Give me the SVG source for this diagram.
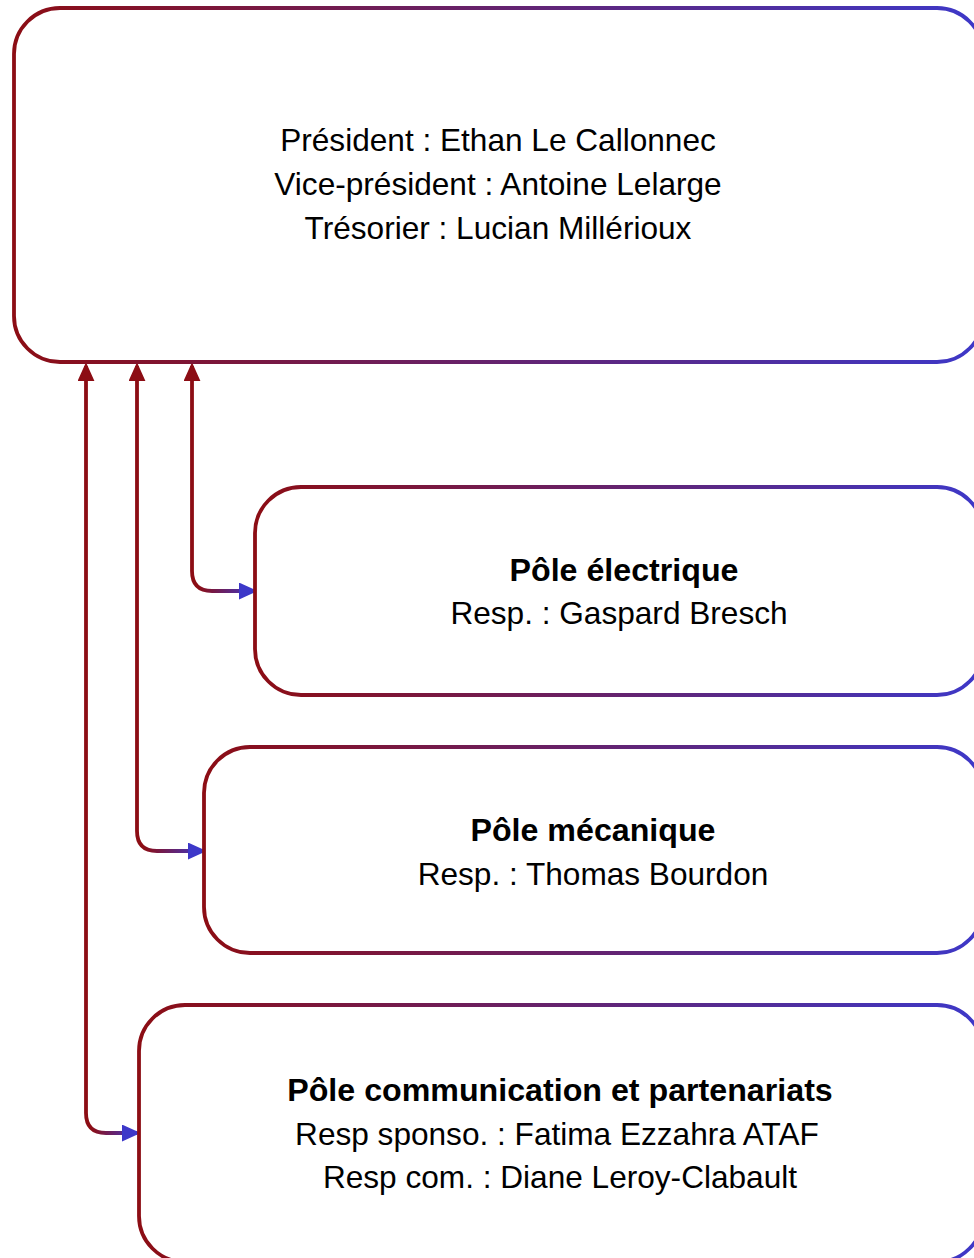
<svg xmlns="http://www.w3.org/2000/svg" width="974" height="1258" viewBox="0 0 974 1258">
<defs>
<linearGradient id="gBox" x1="0" y1="0" x2="1" y2="0">
<stop offset="0" stop-color="#8C0D14"/>
<stop offset="1" stop-color="#3D38C9"/>
</linearGradient>
<linearGradient id="gLink" x1="0" y1="0" x2="1" y2="0">
<stop offset="0" stop-color="#8C0D14"/>
<stop offset="0.1" stop-color="#8C0D14"/>
<stop offset="1" stop-color="#3D38C9"/>
</linearGradient>
<marker id="headRed" viewBox="0 0 10 10" refX="9" refY="5" markerUnits="userSpaceOnUse" markerWidth="17" markerHeight="17" orient="auto-start-reverse">
<path d="M0,0.5 L10,5 L0,9.5 Z" fill="#8C0D14" stroke="#8C0D14" stroke-linejoin="round"/>
</marker>
<marker id="headBlue" viewBox="0 0 10 10" refX="9" refY="5" markerUnits="userSpaceOnUse" markerWidth="17" markerHeight="17" orient="auto">
<path d="M0,0.5 L10,5 L0,9.5 Z" fill="#3D38C9" stroke="#3D38C9" stroke-linejoin="round"/>
</marker>
</defs>
<style>
.box{fill:#ffffff;stroke:url(#gBox);stroke-width:3.8}
.link{fill:none;stroke:url(#gLink);stroke-width:3.8;marker-start:url(#headRed);marker-end:url(#headBlue)}
text{font-family:"Liberation Sans",Arial,Helvetica,sans-serif;font-size:31.6px;fill:#000;text-anchor:middle}
.b{font-weight:bold;font-size:32.2px}
</style>
<rect width="974" height="1258" fill="#ffffff"/>
<g id="connectors">
<path class="link" d="M192,366 L192,571 Q192,591 212,591 L254,591"/>
<path class="link" d="M137,366 L137,831 Q137,851 157,851 L203,851"/>
<path class="link" d="M86,366 L86,1113 Q86,1133 106,1133 L137,1133"/>
</g>
<g id="bureau">
<rect class="box" x="14" y="8" width="969" height="354" rx="46" ry="46"/>
<text x="498" y="151">Président : Ethan Le Callonnec</text>
<text x="498" y="195">Vice-président : Antoine Lelarge</text>
<text x="498" y="239">Trésorier : Lucian Millérioux</text>
</g>
<g id="pole-electrique">
<rect class="box" x="255" y="487" width="728" height="208" rx="46" ry="46"/>
<text class="b" x="624" y="581">Pôle électrique</text>
<text x="619" y="624">Resp. : Gaspard Bresch</text>
</g>
<g id="pole-mecanique">
<rect class="box" x="204" y="747" width="779" height="206" rx="46" ry="46"/>
<text class="b" x="593" y="841">Pôle mécanique</text>
<text x="593" y="885">Resp. : Thomas Bourdon</text>
</g>
<g id="pole-communication">
<rect class="box" x="139" y="1005" width="844" height="257" rx="46" ry="46"/>
<text class="b" x="560" y="1101">Pôle communication et partenariats</text>
<text x="557" y="1145">Resp sponso. : Fatima Ezzahra ATAF</text>
<text x="560" y="1188">Resp com. : Diane Leroy-Clabault</text>
</g>
</svg>
